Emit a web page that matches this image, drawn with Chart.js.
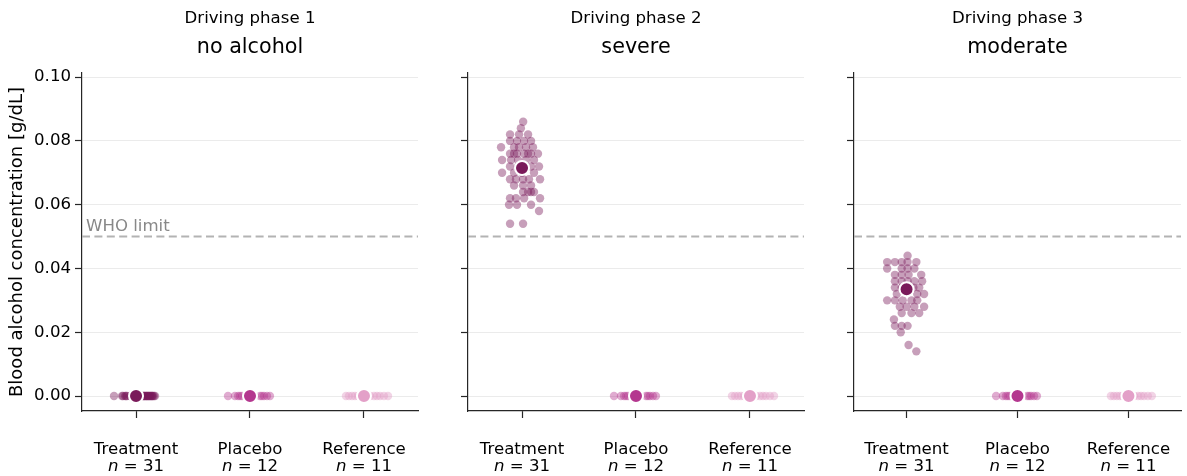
<!DOCTYPE html>
<html><head><meta charset="utf-8">
<script src="https://cdn.jsdelivr.net/npm/chart.js@4.4.0/dist/chart.umd.min.js"></script>
<style>
html,body{margin:0;padding:0;background:#fff;overflow:hidden;width:1187px;height:476px;position:relative;}
canvas{position:absolute;top:0;}
</style></head><body>
<canvas id="c1" width="440" height="476" style="left:0px;width:440px;height:476px"></canvas>
<canvas id="c2" width="360" height="476" style="left:458px;width:360px;height:476px"></canvas>
<canvas id="c3" width="346" height="476" style="left:844px;width:346px;height:476px"></canvas>
<script>
// ---------- data ----------
const categories = ['Treatment', 'Placebo', 'Reference'];
const groupSizes = [31, 12, 11];
const phaseTitles = ['Driving phase 1', 'Driving phase 2', 'Driving phase 3'];
const phaseLabels = ['no alcohol', 'severe', 'moderate'];
const yTicks = [0, 0.02, 0.04, 0.06, 0.08, 0.10];
const yMin = -0.0047, yMax = 0.1013;
const xMin = -0.474, xMax = 2.474;
const whoLimit = 0.05;

// group means per phase [Treatment, Placebo, Reference]
const meansPhase1 = [0, 0, 0];
const meansPhase2 = [0.0715, 0, 0];
const meansPhase3 = [0.0335, 0, 0];

// measurements at zero and their horizontal jitter (category units)
const zeroTreatValues = [0,0,0,0,0,0,0,0,0,0,0,0,0,0,0,0,0,0,0,0,0,0,0,0,0,0,0,0,0,0,0];
const zeroTreatJitter = [-0.193,-0.123,-0.114,-0.096,-0.088,-0.079,-0.053,-0.035,-0.018,0,0.018,0.035,0.053,0.061,0.070,0.079,0.088,0.096,0.105,0.114,0.123,0.132,0.140,0.149,0.158,0.167,0.070,0.088,0.105,0.123,0.140];
const zeroPlaceboValues = [0,0,0,0,0,0,0,0,0,0,0,0];
const zeroPlaceboJitter = [-0.193,-0.132,-0.105,-0.088,-0.070,-0.026,0.026,0.088,0.105,0.123,0.149,0.175];
const zeroRefValues = [0,0,0,0,0,0,0,0,0,0,0];
const zeroRefJitter = [-0.158,-0.132,-0.105,-0.079,-0.053,0.053,0.088,0.114,0.140,0.175,0.211];

// phase 2 (severe) treatment measurements
const p2TreatValues = [
  0.086,
  0.084,
  0.082,0.082,0.082,
  0.080,0.080,0.080,0.080,
  0.078,0.078,0.078,0.078,0.078,
  0.076,0.076,0.076,0.076,0.076,0.076,0.076,
  0.074,0.074,0.074,0.074,0.074,
  0.072,0.072,0.072,0.072,
  0.070,0.070,0.070,0.070,
  0.068,0.068,0.068,0.068,0.068,
  0.066,0.066,0.066,
  0.064,0.064,0.064,0.064,
  0.062,0.062,0.062,0.062,
  0.060,0.060,0.060,
  0.058,
  0.054,0.054
];
const p2TreatJitter = [
  0.01,
  -0.01,
  -0.105,-0.026,0.053,
  -0.105,-0.044,0.018,0.079,
  -0.184,-0.07,-0.026,0.035,0.096,
  -0.105,-0.07,-0.044,0.018,0.053,0.079,0.14,
  -0.175,-0.096,-0.035,0.035,0.105,
  -0.105,-0.035,0.079,0.149,
  -0.175,-0.07,0.0,0.105,
  -0.105,-0.053,0.009,0.061,0.158,
  -0.07,0.009,0.079,
  0.009,0.053,0.079,0.105,
  -0.105,-0.053,0.018,0.158,
  -0.114,-0.044,0.079,
  0.149,
  -0.105,0.009
];

// phase 3 (moderate) treatment measurements
const p3TreatValues = [
  0.044,
  0.042,0.042,0.042,0.042,0.042,
  0.040,0.040,0.040,0.040,
  0.038,0.038,0.038,0.038,
  0.036,0.036,0.036,0.036,0.036,
  0.034,0.034,0.034,0.034,
  0.032,0.032,0.032,
  0.030,0.030,0.030,0.030,0.030,
  0.028,0.028,0.028,0.028,
  0.026,0.026,0.026,
  0.024,
  0.022,0.022,0.022,
  0.020,
  0.016,
  0.014
];
const p3TreatJitter = [
  0.009,
  -0.175,-0.105,-0.044,0.009,0.088,
  -0.175,-0.044,0.009,0.07,
  -0.105,-0.044,0.018,0.132,
  -0.105,-0.044,0.009,0.07,0.14,
  -0.105,-0.044,0.061,0.114,
  -0.088,0.096,0.158,
  -0.175,-0.105,-0.035,0.044,0.096,
  -0.061,0.0,0.07,0.158,
  -0.044,0.044,0.114,
  -0.114,
  -0.105,-0.044,0.009,
  -0.053,
  0.018,
  0.088
];

// ---------- styling ----------
const FONT = '"DejaVu Sans", "Liberation Sans", sans-serif';
const groupColors = ['#7a1a5a', '#b4378f', '#e3a0c8'];
const groupPointColors = ['rgba(122,26,90,0.42)', 'rgba(180,55,143,0.42)', 'rgba(227,160,200,0.45)'];
const AXIS = '#262626';

function pts(catIndex, values, jitter) {
  return values.map((v, i) => ({ x: catIndex + jitter[i], y: v }));
}

const textPlugin = {
  id: 'panelText',
  afterDraw(chart, args, opts) {
    const ctx = chart.ctx, ca = chart.chartArea, xs = chart.scales.x, ys = chart.scales.y;
    const cx = (ca.left + ca.right) / 2;
    ctx.save();
    ctx.fillStyle = '#000';
    ctx.textAlign = 'center';
    ctx.textBaseline = 'alphabetic';
    ctx.font = '16.6px ' + FONT;
    ctx.fillText(opts.title, cx, 22.5);
    ctx.font = '20.7px ' + FONT;
    ctx.fillText(opts.subtitle, cx, 53);
    const rg = '16.6px ' + FONT, it = 'italic 16.6px ' + FONT;
    categories.forEach((c, i) => {
      const x = xs.getPixelForValue(i);
      ctx.font = rg; ctx.textAlign = 'center';
      ctx.fillText(c, x, ca.bottom + 43);
      ctx.font = it; const wn = ctx.measureText('n').width;
      const rest = ' = ' + groupSizes[i];
      ctx.font = rg; const wr = ctx.measureText(rest).width;
      const x0 = x - (wn + wr) / 2;
      ctx.textAlign = 'left';
      ctx.font = it; ctx.fillText('n', x0, ca.bottom + 60);
      ctx.font = rg; ctx.fillText(rest, x0 + wn, ca.bottom + 60);
    });
    if (opts.showWho) {
      ctx.fillStyle = '#888888';
      ctx.font = '16.6px ' + FONT;
      ctx.textAlign = 'left';
      ctx.fillText('WHO limit', ca.left + 4, ys.getPixelForValue(whoLimit) - 6);
    }
    ctx.restore();
  }
};

function makePanel(canvasId, p, groups, means, first, padRight) {
  const datasets = [
    {
      data: [0, 1, 2].map(i => ({ x: i, y: means[i] })),
      backgroundColor: groupColors,
      borderColor: '#ffffff',
      borderWidth: 2,
      pointRadius: 7,
      order: 0
    }
  ];
  groups.forEach(g => {
    datasets.push({
      data: pts(g.cat, g.values, g.jitter),
      backgroundColor: groupPointColors[g.cat],
      borderWidth: 0,
      pointRadius: 4.2,
      order: 1
    });
  });
  datasets.push({
    data: [{ x: xMin, y: whoLimit }, { x: xMax, y: whoLimit }],
    showLine: true,
    borderColor: '#b3b3b3',
    borderWidth: 2,
    borderDash: [8, 4.4],
    pointRadius: 0,
    order: 5
  });

  new Chart(document.getElementById(canvasId), {
    type: 'scatter',
    data: { datasets },
    plugins: [textPlugin],
    options: {
      responsive: false,
      animation: false,
      events: [],
      devicePixelRatio: 1,
      layout: { padding: { top: 73, right: padRight, bottom: 0, left: 0 } },
      plugins: {
        legend: { display: false },
        tooltip: { enabled: false },
        title: { display: false },
        panelText: { title: phaseTitles[p], subtitle: phaseLabels[p], showWho: first }
      },
      scales: {
        x: {
          type: 'linear',
          min: xMin, max: xMax,
          afterBuildTicks: s => { s.ticks = [0, 1, 2].map(v => ({ value: v })); },
          afterFit: s => { s.height = 65; },
          ticks: { display: false },
          grid: { display: true, drawOnChartArea: false, drawTicks: true, tickLength: 7, tickColor: AXIS, tickWidth: 1.2 },
          border: { display: true, color: AXIS, width: 1.2 }
        },
        y: {
          type: 'linear',
          min: yMin, max: yMax,
          afterBuildTicks: s => { s.ticks = yTicks.map(v => ({ value: v })); },
          afterFit: s => { s.width = first ? 82 : 10; },
          ticks: {
            display: first,
            callback: v => Number(v).toFixed(2),
            color: '#000',
            padding: 4,
            font: { family: FONT, size: 16.6 }
          },
          grid: { display: true, color: '#ebebeb', lineWidth: 1, drawTicks: true, tickLength: 7, tickColor: AXIS, tickWidth: 1.2 },
          border: { display: true, color: AXIS, width: 1.2 },
          title: {
            display: first,
            text: 'Blood alcohol concentration [g/dL]',
            color: '#000',
            font: { family: FONT, size: 18 },
            padding: { top: 7, bottom: 0 }
          }
        }
      }
    }
  });
}

makePanel('c1', 0, [
  { cat: 0, values: zeroTreatValues, jitter: zeroTreatJitter },
  { cat: 1, values: zeroPlaceboValues, jitter: zeroPlaceboJitter },
  { cat: 2, values: zeroRefValues, jitter: zeroRefJitter }
], meansPhase1, true, 22);

makePanel('c2', 1, [
  { cat: 0, values: p2TreatValues, jitter: p2TreatJitter },
  { cat: 1, values: zeroPlaceboValues, jitter: zeroPlaceboJitter },
  { cat: 2, values: zeroRefValues, jitter: zeroRefJitter }
], meansPhase2, false, 14);

makePanel('c3', 2, [
  { cat: 0, values: p3TreatValues, jitter: p3TreatJitter },
  { cat: 1, values: zeroPlaceboValues, jitter: zeroPlaceboJitter },
  { cat: 2, values: zeroRefValues, jitter: zeroRefJitter }
], meansPhase3, false, 0);
</script>
</body></html>
